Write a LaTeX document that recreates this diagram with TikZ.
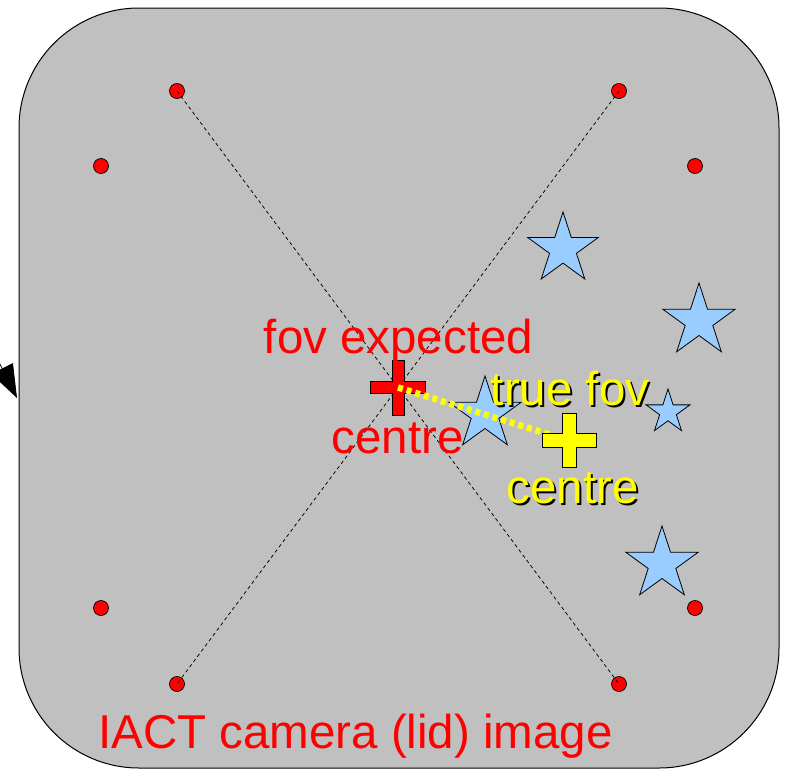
\documentclass[tikz,border=0pt]{standalone}
\usepackage{fontspec}
\setmainfont{Liberation Sans}
\usetikzlibrary{shapes.geometric,arrows.meta}
\definecolor{lidgrey}{HTML}{C0C0C0}
\definecolor{skyblue}{HTML}{99CCFF}
\definecolor{fovred}{HTML}{FF0000}
\definecolor{fovyellow}{HTML}{FFFF00}
% text with a dark drop shadow, set as one box
\newcommand\shadowtext[1]{\rlap{\kern2pt\raisebox{-2pt}{\color{black}#1}}{\color{fovyellow}#1}}
\tikzset{
  reddot/.style={circle, draw=black, line width=0.7pt, fill=fovred, minimum size=15pt, inner sep=0pt},
  diag/.style={line width=0.75pt, dash pattern=on 3.5pt off 3pt},
  starmark/.style={star, star points=5, star point ratio=2.618, draw=black, line width=0.8pt,
                   fill=skyblue, inner sep=0pt, outer sep=0pt},
  lbl/.style={font=\fontsize{47.5}{57}\selectfont, inner sep=0pt, anchor=base},
  pics/plus/.style n args={3}{code={%
    \draw[fill=#3, line width=0.9pt]
      (-#1,-#2) -- (-#2,-#2) -- (-#2,-#1) -- (#2,-#1) -- (#2,-#2) -- (#1,-#2) --
      (#1,#2) -- (#2,#2) -- (#2,#1) -- (-#2,#1) -- (-#2,#2) -- (-#1,#2) -- cycle;}},
}
\begin{document}
\begin{tikzpicture}[x=1pt, y=-1pt]
\useasboundingbox (0,0) rectangle (785,771);
\clip (0,0) rectangle (785,771);

% camera lid
\draw[fill=lidgrey, line width=1pt, rounded corners=120pt] (19,8) rectangle (779,768);

% incoming connector from the left
\coordinate (src) at (-37,291);
\coordinate (tip) at (17,398);
\draw[line width=0.8pt, -{Triangle[length=33pt,width=24pt]}] (src) -- (tip);

% LED markers on the lid
\node[reddot] (ltl) at (177,91) {};
\node[reddot] (ltr) at (619,91) {};
\node[reddot] (ml1) at (101,166) {};
\node[reddot] (mr1) at (695,166) {};
\node[reddot] (ml2) at (101,608) {};
\node[reddot] (mr2) at (695,608) {};
\node[reddot] (lbl1) at (177,684) {};
\node[reddot] (lbr) at (619,684) {};

% diagonals through the expected centre
\draw[diag] (ltl.center) -- (lbr.center);
\draw[diag] (ltr.center) -- (lbl1.center);

% stars in the field of view
\node[starmark, minimum size=74pt] (s1) at (563,249) {};
\node[starmark, minimum size=76pt] (s2) at (699,321) {};
\node[starmark, minimum size=46pt] (s3) at (668,412) {};
\node[starmark, minimum size=76pt] (s4) at (485,414) {};
\node[starmark, minimum size=76pt] (s5) at (662,564) {};

% centres
\coordinate (expc) at (398,387.5);
\coordinate (truec) at (569,440.5);
\pic at (expc) {plus={27.5}{6}{fovred}};
\draw[fovyellow, line width=6.5pt, dash pattern=on 5pt off 4pt] (expc) -- (truec);
\pic at (truec) {plus={27}{7}{fovyellow}};

% labels
\node[lbl, text=fovred] (expt) at (398.5,353) {fov expected};
\node[lbl, text=fovred] (expb) at (397.5,453) {centre};
\node[lbl] (truet) at (570,405) {\shadowtext{true fov}};
\node[lbl] (trueb) at (572.5,503) {\shadowtext{centre}};
\node[lbl, text=fovred] (title) at (355.5,748) {IACT camera (lid) image};
\end{tikzpicture}
\end{document}
